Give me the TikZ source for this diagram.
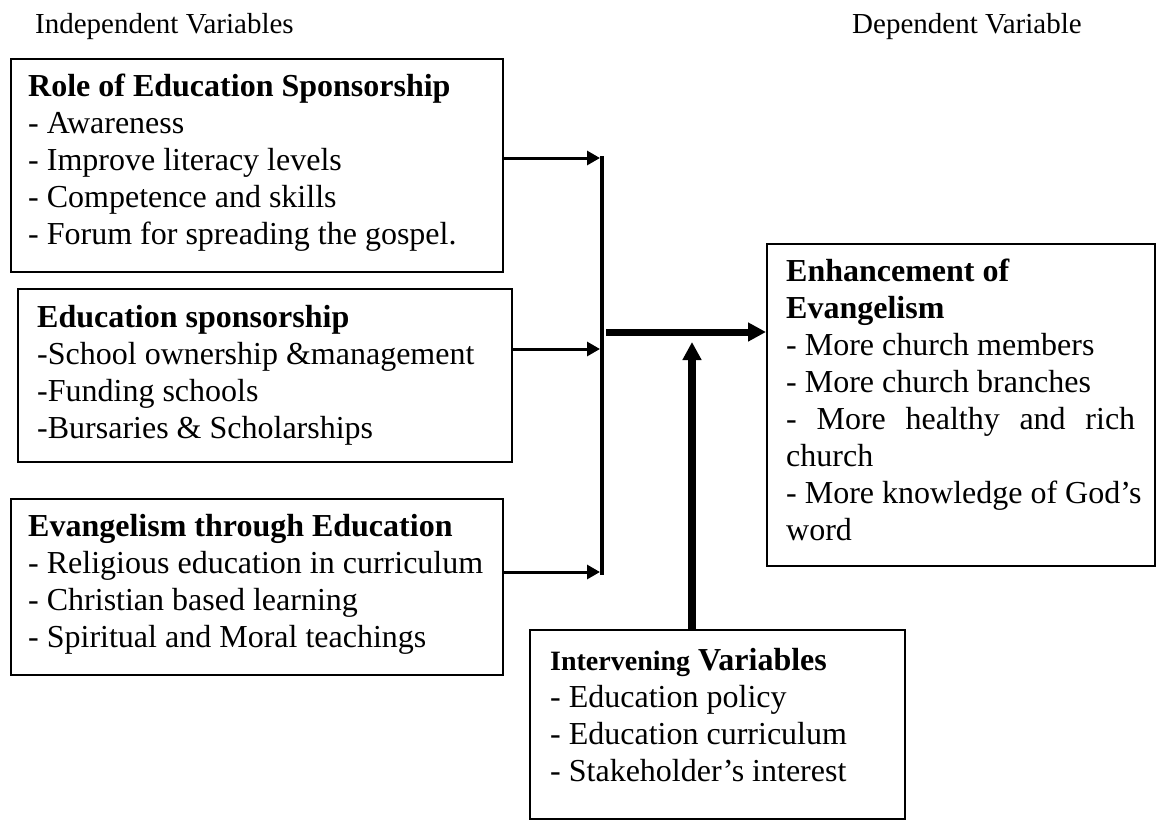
\documentclass[tikz,border=0pt]{standalone}
\usepackage{fontspec}
\setmainfont{Liberation Serif}
\usetikzlibrary{arrows.meta}
\begin{document}
\begin{tikzpicture}[x=1pt,y=-1pt,
  box/.style={draw, line width=1.5pt, anchor=north west, inner sep=0pt},
  txt/.style={anchor=north west, inner sep=0pt, align=left, font=\fontsize{32}{37}\selectfont},
  head/.style={anchor=base west, inner sep=0pt, font=\fontsize{29}{35}\selectfont},
  feed/.style={line width=3pt, -{Triangle[length=13pt,width=14pt]}},
  main/.style={line width=7pt, -{Triangle[length=18pt,width=18pt]}}]
\useasboundingbox (0,0) rectangle (1157,820);

% column headings
\node[head] (indep) at (35,33) {Independent Variables};
\node[head] (dep) at (852,33) {Dependent Variable};

% independent variable boxes
\node[box, minimum width=492, minimum height=213] (roleBox) at (10,58) {};
\node[txt] (roleTxt) at (28,96-26) {\strut\textbf{Role of Education Sponsorship}\\
- Awareness\\
- Improve literacy levels\\
- Competence and skills\\
- Forum for spreading the gospel.};

\node[box, minimum width=494, minimum height=173] (sponBox) at (17,288) {};
\node[txt] (sponTxt) at (37,327-26) {\strut\textbf{Education sponsorship}\\
-School ownership \&management\\
-Funding schools\\
-Bursaries \& Scholarships};

\node[box, minimum width=492, minimum height=176] (evBox) at (10,498) {};
\node[txt] (evTxt) at (28,536-26) {\strut\textbf{Evangelism through Education}\\
- Religious education in curriculum\\
- Christian based learning\\
- Spiritual and Moral teachings};

% dependent variable box
\node[box, minimum width=388, minimum height=322] (enhBox) at (766,243) {};
\node[txt] (enhTxt) at (786,281-26) {\strut\textbf{Enhancement of}\\
\textbf{Evangelism}\\
- More church members\\
- More church branches\\
\makebox[349pt][s]{- More healthy and rich}\\
church\\
- More knowledge of God’s\\
word};

% intervening variables box
\node[box, minimum width=375, minimum height=189] (intBox) at (529,629) {};
\node[txt] (intTxt) at (550,670-26) {\strut{\fontsize{28}{37}\selectfont\textbf{Intervening}} \textbf{Variables}\\
- Education policy\\
- Education curriculum\\
- Stakeholder’s interest};

% junction bar
\coordinate (j1) at (600,158);
\coordinate (j2) at (600,349);
\coordinate (j3) at (600,572);
\coordinate (barTop) at (602,156);
\coordinate (barBot) at (602,575);
\draw[line width=4pt] (barTop) -- (barBot);

\draw[feed] (roleBox.east |- j1) -- (j1);
\draw[feed] (sponBox.east |- j2) -- (j2);
\draw[feed] (evBox.east |- j3) -- (j3);

% combined effect and intervening influence
\coordinate (k) at (606,332);
\draw[main] (k) -- (enhBox.west |- k);
\coordinate (m) at (692,342);
\draw[main, line width=8pt] (m |- intBox.north) -- (m);
\end{tikzpicture}
\end{document}
